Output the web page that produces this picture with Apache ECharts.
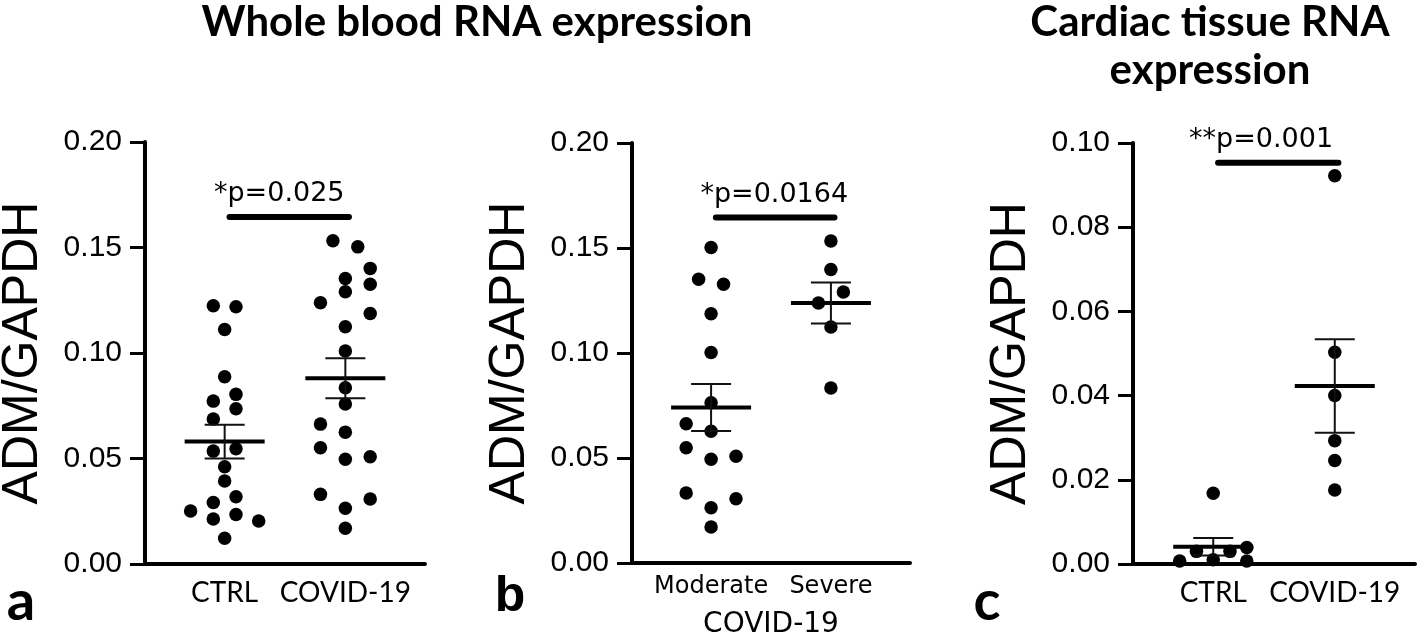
<!DOCTYPE html>
<html>
<head>
<meta charset="utf-8">
<script src="https://cdn.jsdelivr.net/npm/echarts@6/dist/echarts.min.js"></script>
<style>
html,body{margin:0;padding:0;background:#fff;}
#chart{width:1418px;height:637px;}
</style>
</head>
<body>
<div id="chart"></div>
<script>
// ---------- DATA ----------
const catA = ['CTRL', 'COVID-19'];
const catB = ['Moderate', 'Severe'];
const catC = ['CTRL', 'COVID-19'];

// Panel a: whole blood
const ctrlA  = [0.1224,0.1219,0.1111,0.0887,0.0804,0.0772,0.0736,0.0687,0.0546,0.0535,0.0461,0.0393,0.0319,0.0291,0.0251,0.0235,0.0213,0.0204,0.0122];
const ctrlALane  = [-1,1,0,0,1,-1,1,-1,1,-1,0,0,1,-1,-3,1,-1,3,0];
const covidA = [0.1532,0.1503,0.1401,0.1353,0.1326,0.1290,0.1238,0.1187,0.1124,0.1009,0.0835,0.0758,0.0663,0.0625,0.0551,0.0508,0.0496,0.0330,0.0308,0.0264,0.0169];
const covidALane = [-1,1,2,0,2,0,-2,2,0,0,0,0,-2,0,-2,2,0,-2,2,0,0];
const meanA = [0.0580, 0.0880];
const semA  = [0.0080, 0.0095];

// Panel b: whole blood, COVID-19 severity
const moderateB = [0.1502,0.1351,0.1327,0.1187,0.1002,0.0763,0.0663,0.0627,0.0549,0.0508,0.0494,0.0333,0.0306,0.0263,0.0171];
const moderateBLane = [0,-1,1,0,0,0,-2,0,-2,2,0,-2,2,0,0];
const severeB = [0.1533,0.1398,0.1290,0.1238,0.1124,0.0833];
const severeBLane = [0,0,1,-1,0,0];
const meanB = [0.0740, 0.1238];
const semB  = [0.0112, 0.0098];

// Panel c: cardiac tissue
const ctrlC  = [0.0168,0.0039,0.0030,0.0030,0.0010,0.0007,0.0007];
const ctrlCLane  = [0,2,-1,1,0,-2,2];
const covidC = [0.0922,0.0503,0.0400,0.0293,0.0246,0.0176];
const covidCLane = [0,0,0,0,0,0];
const meanC = [0.0041, 0.0423];
const semC  = [0.0021, 0.0111];

// significance annotations
const pLabels = ['*p=0.025', '*p=0.0164', '**p=0.001'];
const pBarY   = [0.1645, 0.1645, 0.0953];

const yMax = [0.20, 0.20, 0.10];
const yStep = [0.05, 0.05, 0.02];
const titles = ['Whole blood RNA expression', 'Cardiac tissue RNA\nexpression'];
const panelLetters = ['a', 'b', 'c'];
const yName = 'ADM/GAPDH';
const xNameB = 'COVID-19';

// ---------- LAYOUT / STYLE ----------
const laneStep = [[0.094, 0.103], [0.104, 0.104], [0.138, 0.1]];
const grids = [
  {left: 145, top: 142, width: 280, height: 422, outerBoundsMode: 'none', containLabel: false},
  {left: 632, top: 143, width: 278, height: 420, outerBoundsMode: 'none', containLabel: false},
  {left: 1133, top: 143, width: 282, height: 421, outerBoundsMode: 'none', containLabel: false}
];
const panels = [
  {cats: catA, groups: [[ctrlA, ctrlALane], [covidA, covidALane]], mean: meanA, sem: semA},
  {cats: catB, groups: [[moderateB, moderateBLane], [severeB, severeBLane]], mean: meanB, sem: semB},
  {cats: catC, groups: [[ctrlC, ctrlCLane], [covidC, covidCLane]], mean: meanC, sem: semC}
];

const xAxes = [], yAxes = [], series = [];
panels.forEach((p, i) => {
  const isB = i === 1;
  xAxes.push({
    gridIndex: i, type: 'value', min: 0.34, max: 2.66,
    axisLine: {show: true, lineStyle: {color: '#000', width: 4}},
    axisTick: {show: false},
    splitLine: {show: false},
    axisLabel: {
      show: true, customValues: [1, 2], margin: isB ? 12 : 15,
      formatter: v => p.cats[Math.round(v) - 1] || '',
      color: '#000',
      fontFamily: isB ? 'DejaVu Sans' : 'Lato',
      fontSize: isB ? 24 : 28
    },
    name: isB ? xNameB : '', nameLocation: 'middle', nameGap: 48,
    nameTextStyle: {color: '#000', fontFamily: 'DejaVu Sans', fontSize: 28}
  });
  yAxes.push({
    gridIndex: i, type: 'value', min: 0, max: yMax[i], interval: yStep[i],
    axisLine: {show: true, lineStyle: {color: '#000', width: 4}},
    axisTick: {show: true, length: 15, lineStyle: {color: '#000', width: 3}},
    splitLine: {show: false},
    axisLabel: {
      margin: 23, color: '#000', fontFamily: 'Liberation Sans', fontSize: 30,
      formatter: v => v.toFixed(2)
    },
    name: yName, nameLocation: 'middle', nameGap: 97,
    nameTextStyle: {color: '#000', fontFamily: 'Liberation Sans', fontSize: 50}
  });
  p.groups.forEach((g, k) => {
    const vals = g[0], lanes = g[1];
    series.push({
      type: 'scatter', xAxisIndex: i, yAxisIndex: i,
      symbol: 'circle', symbolSize: 13.5,
      itemStyle: {color: '#000', opacity: 1},
      data: vals.map((v, j) => [k + 1 + lanes[j] * laneStep[i][k], v]),
      z: 3
    });
  });
  // mean + SEM
  series.push({
    type: 'custom', xAxisIndex: i, yAxisIndex: i, z: 4,
    data: p.mean.map((m, k) => [k + 1, m, p.sem[k]]),
    renderItem: (params, api) => {
      const x = api.value(0), m = api.value(1), s = api.value(2);
      const c = api.coord([x, m]), hi = api.coord([x, m + s]), lo = api.coord([x, m - s]);
      const st = {stroke: '#111', lineWidth: 2};
      return {type: 'group', children: [
        {type: 'line', shape: {x1: c[0] - 40, y1: c[1], x2: c[0] + 40, y2: c[1]}, style: {stroke: '#000', lineWidth: 4}},
        {type: 'line', shape: {x1: c[0], y1: hi[1], x2: c[0], y2: lo[1]}, style: st},
        {type: 'line', shape: {x1: c[0] - 20, y1: hi[1], x2: c[0] + 20, y2: hi[1]}, style: st},
        {type: 'line', shape: {x1: c[0] - 20, y1: lo[1], x2: c[0] + 20, y2: lo[1]}, style: st}
      ]};
    }
  });
  // significance bar
  series.push({
    type: 'custom', xAxisIndex: i, yAxisIndex: i, z: 5,
    data: [[1.04, 2.03, pBarY[i]]],
    renderItem: (params, api) => {
      const a = api.coord([api.value(0), api.value(2)]);
      const b = api.coord([api.value(1), api.value(2)]);
      const lbl = pLabels[i];
      const m = lbl.match(/^(\**)(.*)$/);
      const font = '27px "DejaVu Sans"';
      const ty = a[1] - 9;
      return {type: 'group', children: [
        {type: 'line', shape: {x1: a[0], y1: a[1], x2: b[0], y2: b[1]}, style: {stroke: '#000', lineWidth: 6, lineCap: 'round'}},
        {type: 'text', style: {text: m[1], x: a[0] - 2, y: ty, font: font, fill: '#000', align: 'right', verticalAlign: 'bottom'}},
        {type: 'text', style: {text: m[2], x: a[0] - 2, y: ty, font: font, fill: '#000', align: 'left', verticalAlign: 'bottom'}}
      ]};
    }
  });
});

const chart = echarts.init(document.getElementById('chart'), null, {renderer: 'canvas'});
chart.setOption({
  animation: false,
  backgroundColor: '#fff',
  grid: grids,
  xAxis: xAxes,
  yAxis: yAxes,
  series: series,
  graphic: [
    {type: 'text', x: 477, y: 22, style: {text: titles[0], font: 'bold 42px Lato', fill: '#000', align: 'center', verticalAlign: 'middle'}},
    {type: 'text', x: 1210, y: -2, style: {text: titles[1], font: 'bold 42px Lato', lineHeight: 48, fill: '#000', align: 'center', verticalAlign: 'top'}},
    {type: 'text', x: 21, y: 602, style: {text: panelLetters[0], font: 'bold 56px Lato', fill: '#000', align: 'center', verticalAlign: 'middle'}},
    {type: 'text', x: 510, y: 597, style: {text: panelLetters[1], font: 'bold 50px "Liberation Sans"', fill: '#000', align: 'center', verticalAlign: 'middle'}},
    {type: 'text', x: 987, y: 602, style: {text: panelLetters[2], font: 'bold 56px Lato', fill: '#000', align: 'center', verticalAlign: 'middle'}}
  ]
});
</script>
</body>
</html>
